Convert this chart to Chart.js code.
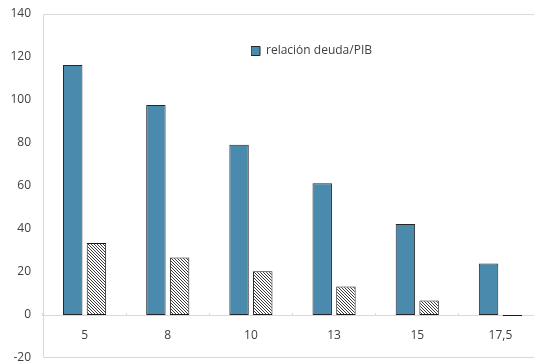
<!DOCTYPE html>
<html>
<head>
<meta charset="utf-8">
<script src="https://cdn.jsdelivr.net/npm/chart.js@4.4.1/dist/chart.umd.min.js"></script>
<style>
  html, body { margin: 0; padding: 0; background: #ffffff; overflow: hidden; }
  #wrap { width: 542px; height: 364px; }
</style>
</head>
<body>
<div id="wrap"><canvas id="chart" width="542" height="364"></canvas></div>
<script>
// Categories along the horizontal axis
const categories = ['5', '8', '10', '13', '15', '17,5'];
// Debt-to-GDP ratio (solid bars)
const debtRatio = [116.3, 97.7, 79.2, 61.3, 42.3, 24.0];
// Second series (hatched bars)
const hatchedSeries = [33.5, 26.7, 20.3, 13.2, 6.8, -0.5];
// Vertical axis range
const yMin = -20;
const yMax = 140;
const yStep = 20;
const legendLabel = 'relación deuda/PIB';

const FONT = { family: "'Open Sans', 'Noto Sans', sans-serif", size: 12 };
const TEXT = '#404040';
const FRAME = '#d9d9d9';

const canvas = document.getElementById('chart');
const ctx = canvas.getContext('2d');

// Fine diagonal hatching for the second series
function makeHatch() {
  const tile = document.createElement('canvas');
  tile.width = 3; tile.height = 3;
  const g = tile.getContext('2d');
  g.fillStyle = '#ffffff';
  g.fillRect(0, 0, 3, 3);
  g.fillStyle = '#3a3a3a';
  for (let i = 0; i < 3; i++) g.fillRect(i, i, 1, 1);
  return ctx.createPattern(tile, 'repeat');
}

// Light frame around the plot area
const plotFrame = {
  id: 'plotFrame',
  afterDraw(chart) {
    const c = chart.ctx;
    const a = chart.chartArea;
    c.save();
    c.strokeStyle = FRAME;
    c.lineWidth = 1;
    c.beginPath();
    c.moveTo(a.left + 0.5, a.bottom - 0.5);
    c.lineTo(a.left + 0.5, a.top + 0.5);
    c.lineTo(a.right - 0.5, a.top + 0.5);
    c.lineTo(a.right - 0.5, a.bottom - 0.5);
    c.closePath();
    c.stroke();
    c.restore();
  }
};

// Place the legend inside the plot, near the top centre
const legendSpot = {
  id: 'legendSpot',
  afterLayout(chart) {
    const lg = chart.legend;
    if (!lg) return;
    lg.left = 251; lg.top = 45;
    lg.width = 170; lg.height = 20;
    lg.right = lg.left + lg.width;
    lg.bottom = lg.top + lg.height;
  }
};

new Chart(ctx, {
  type: 'bar',
  data: {
    labels: categories,
    datasets: [
      {
        label: legendLabel,
        data: debtRatio,
        backgroundColor: '#4a8aad',
        borderColor: '#262626',
        borderWidth: 1,
        borderSkipped: false,
        categoryPercentage: 0.57,
        barPercentage: 0.82
      },
      {
        label: 'serie 2',
        data: hatchedSeries,
        backgroundColor: makeHatch(),
        borderColor: '#1a1a1a',
        borderWidth: 1,
        borderSkipped: false,
        categoryPercentage: 0.57,
        barPercentage: 0.82
      }
    ]
  },
  options: {
    responsive: false,
    animation: false,
    layout: { padding: { left: 0, top: 14, right: 0, bottom: 6 } },
    plugins: {
      tooltip: { enabled: false },
      legend: {
        position: 'chartArea',
        align: 'start',
        labels: {
          boxWidth: 9,
          boxHeight: 9,
          padding: 0,
          color: TEXT,
          font: FONT,
          filter: (item) => item.datasetIndex === 0
        }
      }
    },
    scales: {
      x: {
        position: { y: 0 },
        offset: true,
        grid: { display: true, drawOnChartArea: false, drawTicks: true, tickLength: -3, color: FRAME },
        border: { display: true, color: FRAME, width: 1 },
        ticks: { color: TEXT, font: FONT, padding: 16, maxRotation: 0 },
        afterFit(scale) { scale.height = 0; }
      },
      y: {
        min: yMin,
        max: yMax,
        grid: { display: false, drawTicks: false },
        border: { display: false },
        ticks: { stepSize: yStep, color: TEXT, font: FONT, padding: 12 },
        afterFit(scale) {
          scale.width = 43;
          scale.paddingTop = 0;
          scale.paddingBottom = 0;
        }
      }
    }
  },
  plugins: [plotFrame, legendSpot]
});
</script>
</body>
</html>
